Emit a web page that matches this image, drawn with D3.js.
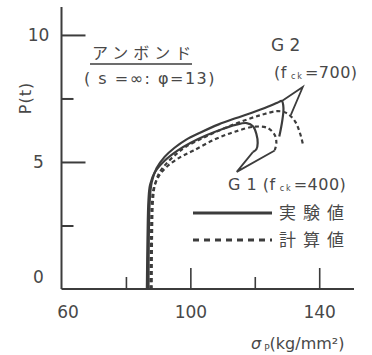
<!DOCTYPE html>
<html>
<head>
<meta charset="utf-8">
<script src="https://cdn.jsdelivr.net/npm/d3@7/dist/d3.min.js"></script>
<style>
  html, body { margin: 0; padding: 0; background: #fff; }
  svg { display: block; }
  text { fill: #484848; font-family: "DejaVu Sans", sans-serif; }
  .jp { font-family: "Noto Sans CJK JP", sans-serif; }
</style>
</head>
<body>
<svg id="chart" width="372" height="355"></svg>
<script>
// σP (kg/mm²) vs P (t) for unbonded specimens G1 and G2
const xTicksMajor = [60, 100, 140];
const xTicksMinor = [80, 120];
const yTicksMajor = [0, 5, 10];
const yTicksMinor = [2.5, 7.5];

// G2 (fck=700), measured
const g2Exp = [
  [87.0, 0], [87.1, 2], [87.4, 3.5], [88.0, 4.2], [89.5, 4.75], [92, 5.2],
  [95, 5.55], [98.6, 5.87], [103, 6.15], [108.8, 6.48], [114, 6.72],
  [119.3, 6.95], [124, 7.17], [127, 7.33], [128.4, 7.4], [128.9, 7.12],
  [128.5, 6.6], [127.6, 6.0]
];
// G2 (fck=700), calculated
const g2Calc = [
  [88.0, 0], [88.1, 2], [88.4, 3.5], [89.0, 4.1], [90.5, 4.6], [93, 5.0],
  [96, 5.35], [98.6, 5.6], [104, 5.95], [110, 6.3], [116, 6.6],
  [122, 6.85], [127, 7.0], [130, 6.92], [132.5, 6.6], [134, 6.15], [135, 5.67]
];
// G1 (fck=400), measured
const g1Exp = [
  [86.5, 0], [86.7, 2], [87.0, 3.5], [87.5, 4.1], [89, 4.6], [92, 5.05],
  [96, 5.45], [100, 5.75], [105, 6.05], [110, 6.3], [114, 6.46],
  [117.5, 6.53], [119.5, 6.4], [120.5, 6.1], [120.9, 5.75], [120.5, 5.5], [119.4, 5.39]
];
// G1 (fck=400), calculated
const g1Calc = [
  [87.6, 0], [87.8, 2], [88.1, 3.5], [88.7, 4.0], [90.5, 4.5], [93, 4.85],
  [97, 5.2], [101, 5.45], [107.6, 5.89], [113.8, 6.19], [120, 6.39],
  [124.1, 6.33], [126.2, 6.06], [126.7, 5.74], [126.2, 5.47]
];

// leader lines from the series labels to their curves
const g2Leader = [[128.2, 7.38], [134.9, 7.95], [131.2, 6.85]];
const g1Leader = [[119.4, 5.39], [114.4, 4.61], [126.2, 5.45]];

const svg = d3.select("#chart");
const x = d3.scaleLinear().domain([60, 150.8]).range([61.5, 354]);
const y = d3.scaleLinear().domain([0, 11.1]).range([289, 7]);
const ink = "#3c3c3c";

// axes: labels outside, ticks drawn inward
const gx = svg.append("g").attr("transform", `translate(0,${y(0)})`);
gx.call(d3.axisBottom(x).tickValues(xTicksMajor).tickSize(0).tickPadding(17).tickFormat(d3.format("d")));
gx.call(g => g.select(".domain").remove());
gx.selectAll("text").attr("font-size", 17).attr("fill", "#484848").attr("font-family", "DejaVu Sans")
  .attr("dx", d => d === 60 ? 6 : 0);

const gy = svg.append("g").attr("transform", `translate(${x(60)},0)`);
gy.call(d3.axisLeft(y).tickValues(yTicksMajor).tickSize(0).tickPadding(0).tickFormat(d3.format("d")));
gy.call(g => g.select(".domain").remove());
gy.selectAll("text").attr("font-size", 17).attr("fill", "#484848").attr("font-family", "DejaVu Sans")
  .attr("text-anchor", "middle").attr("x", -23).attr("dy", d => d === 0 ? "-0.4em" : "0.35em");

// axis lines
svg.append("line").attr("x1", x(60)).attr("x2", x(60)).attr("y1", y(11.1)).attr("y2", y(0))
  .attr("stroke", ink).attr("stroke-width", 2);
svg.append("line").attr("x1", x(60)).attr("x2", x(150.8)).attr("y1", y(0)).attr("y2", y(0))
  .attr("stroke", ink).attr("stroke-width", 2);

// inward tick marks
svg.append("g").attr("transform", `translate(0,${y(0)})`)
  .call(d3.axisBottom(x).tickValues(xTicksMajor.filter(v => v > 60)).tickSize(-21).tickFormat(""))
  .call(g => g.select(".domain").remove())
  .selectAll("line").attr("stroke", ink).attr("stroke-width", 1.6);
svg.append("g").attr("transform", `translate(0,${y(0)})`)
  .call(d3.axisBottom(x).tickValues(xTicksMinor).tickSize(-12).tickFormat(""))
  .call(g => g.select(".domain").remove())
  .selectAll("line").attr("stroke", ink).attr("stroke-width", 1.6);
svg.append("g").attr("transform", `translate(${x(60)},0)`)
  .call(d3.axisLeft(y).tickValues(yTicksMajor.filter(v => v > 0)).tickSize(-24).tickFormat(""))
  .call(g => g.select(".domain").remove())
  .selectAll("line").attr("stroke", ink).attr("stroke-width", 2);
svg.append("g").attr("transform", `translate(${x(60)},0)`)
  .call(d3.axisLeft(y).tickValues(yTicksMinor).tickSize(-12).tickFormat(""))
  .call(g => g.select(".domain").remove())
  .selectAll("line").attr("stroke", ink).attr("stroke-width", 2);

// curves
const line = d3.line().x(d => x(d[0])).y(d => y(d[1])).curve(d3.curveCatmullRom.alpha(0.5));
const series = [
  { data: g1Exp, dash: null },
  { data: g2Exp, dash: null },
  { data: g1Calc, dash: "4,3" },
  { data: g2Calc, dash: "4,3" }
];
svg.append("g").selectAll("path").data(series).join("path")
  .attr("d", d => line(d.data))
  .attr("fill", "none")
  .attr("stroke", ink)
  .attr("stroke-width", 2.2)
  .attr("stroke-linejoin", "round")
  .attr("stroke-dasharray", d => d.dash);

// leader lines
const straight = d3.line().x(d => x(d[0])).y(d => y(d[1]));
svg.append("g").selectAll("path").data([g2Leader, g1Leader]).join("path")
  .attr("d", straight).attr("fill", "none").attr("stroke", ink).attr("stroke-width", 1.8)
  .attr("stroke-linejoin", "miter");

// axis titles
svg.append("text").attr("transform", `translate(31,98) rotate(-90)`)
  .attr("text-anchor", "middle").attr("font-size", 16).attr("letter-spacing", 1).text("P(t)");

const xt = svg.append("text").attr("x", 251).attr("y", 349).attr("font-size", 16);
xt.append("tspan").attr("font-style", "italic").text("σ");
xt.append("tspan").attr("font-size", 9).attr("dx", 3).attr("dy", 2).text("P");
xt.append("tspan").attr("dy", -2).text("(kg/mm²)");

// title block
svg.append("text").attr("class", "jp").attr("x", 92).attr("y", 59)
  .attr("font-size", 16).attr("letter-spacing", 5).text("アンボンド");
svg.append("line").attr("x1", 90).attr("x2", 192).attr("y1", 64).attr("y2", 64)
  .attr("stroke", ink).attr("stroke-width", 1.4);
svg.append("text").attr("x", 84).attr("y", 84).attr("font-size", 16).attr("letter-spacing", 1.5)
  .attr("xml:space", "preserve").text("( s =∞: φ=13)");

// series labels
function fckLabel(tx, ty, pre, val) {
  const t = svg.append("text").attr("x", tx).attr("y", ty).attr("font-size", 16)
    .attr("letter-spacing", 0.5).attr("xml:space", "preserve");
  t.append("tspan").text(pre + "(f");
  t.append("tspan").attr("font-size", 8).attr("dx", 4).attr("dy", 1).attr("letter-spacing", 2).text("ck");
  t.append("tspan").attr("dy", -1).attr("dx", 1).text("=" + val + ")");
}
svg.append("text").attr("x", 271).attr("y", 51).attr("font-size", 17).attr("xml:space", "preserve").text("G 2");
fckLabel(274, 78, "", 700);
fckLabel(228, 190, "G 1 ", 400);

// legend
svg.append("line").attr("x1", 193).attr("x2", 272).attr("y1", 213).attr("y2", 213)
  .attr("stroke", ink).attr("stroke-width", 3);
svg.append("line").attr("x1", 193).attr("x2", 272).attr("y1", 240).attr("y2", 240)
  .attr("stroke", ink).attr("stroke-width", 3).attr("stroke-dasharray", "6,5");
svg.append("text").attr("class", "jp").attr("x", 279).attr("y", 219)
  .attr("font-size", 17).attr("letter-spacing", 7).text("実験値");
svg.append("text").attr("class", "jp").attr("x", 279).attr("y", 246)
  .attr("font-size", 17).attr("letter-spacing", 7).text("計算値");
</script>
</body>
</html>
